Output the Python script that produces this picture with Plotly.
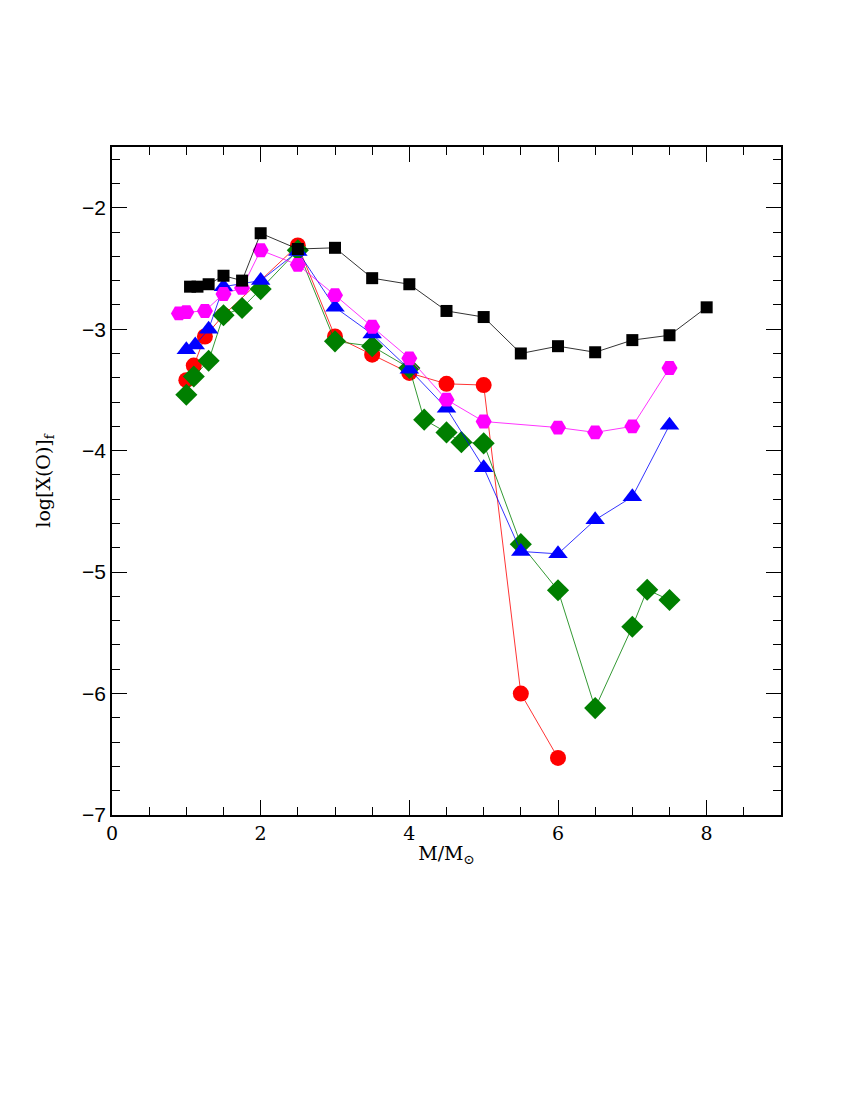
import plotly.graph_objects as go

# final oxygen abundance vs initial mass, five model sets
black_m = [1.05, 1.15, 1.3, 1.5, 1.75, 2.0, 2.5, 3.0, 3.5, 4.0, 4.5, 5.0, 5.5, 6.0, 6.5, 7.0, 7.5, 8.0]
black_x = [-2.65, -2.65, -2.63, -2.56, -2.60, -2.21, -2.34, -2.33, -2.58, -2.63, -2.85, -2.90, -3.20, -3.14, -3.19, -3.09, -3.05, -2.82]

magenta_m = [0.9, 1.0, 1.25, 1.5, 1.75, 2.0, 2.5, 3.0, 3.5, 4.0, 4.5, 5.0, 6.0, 6.5, 7.0, 7.5]
magenta_x = [-2.87, -2.86, -2.85, -2.71, -2.66, -2.35, -2.47, -2.72, -2.98, -3.24, -3.58, -3.76, -3.81, -3.85, -3.80, -3.32]

blue_m = [1.0, 1.12, 1.3, 1.5, 2.0, 2.5, 3.0, 3.5, 4.0, 4.5, 5.0, 5.5, 6.0, 6.5, 7.0, 7.5]
blue_x = [-3.17, -3.13, -3.00, -2.65, -2.60, -2.36, -2.82, -3.04, -3.33, -3.65, -4.14, -4.83, -4.85, -4.57, -4.38, -3.79]

red_m = [1.0, 1.1, 1.25, 1.5, 2.5, 3.0, 3.5, 4.0, 4.5, 5.0, 5.5, 6.0]
red_x = [-3.42, -3.30, -3.06, -2.885, -2.31, -3.06, -3.21, -3.36, -3.45, -3.46, -6.00, -6.53]

green_m = [1.0, 1.1, 1.3, 1.5, 1.75, 2.0, 2.5, 3.0, 3.5, 4.0, 4.2, 4.5, 4.7, 5.0, 5.5, 6.0, 6.5, 7.0, 7.2, 7.5]
green_x = [-3.54, -3.39, -3.26, -2.885, -2.825, -2.67, -2.35, -3.10, -3.14, -3.32, -3.745, -3.85, -3.93, -3.94, -4.77, -5.15, -6.12, -5.45, -5.145, -5.23]

series = [
    ("red", red_m, red_x, "#ff0000", "circle", 16),
    ("green", green_m, green_x, "#007f00", "diamond", 17),
    ("blue", blue_m, blue_x, "#0000ff", "triangle-up", 17),
    ("magenta", magenta_m, magenta_x, "#ff00ff", "hexagon2", 16),
    ("black", black_m, black_x, "#000000", "square", 12),
]

fig = go.Figure()
for name, m, x, col, sym, size in series:
    fig.add_trace(go.Scatter(
        x=m, y=x, name=name, mode="lines+markers",
        line=dict(color=col, width=0.8),
        marker=dict(color=col, symbol=sym, size=size, line=dict(width=0)),
    ))

axis_common = dict(
    showgrid=False, zeroline=False, showline=True, linecolor="black", linewidth=1.5,
    mirror="ticks", ticks="inside", ticklen=15, tickwidth=1.2, tickcolor="black",
)

fig.update_xaxes(
    range=[0, 9], dtick=2, tick0=0,
    minor=dict(dtick=0.5, ticks="inside", ticklen=8, tickcolor="black", tickwidth=1),
    tickfont=dict(family="DejaVu Serif", size=19, color="black"),
    title=dict(text="M/M<sub>⊙</sub>", font=dict(family="DejaVu Serif", size=19, color="black"), standoff=4),
    **axis_common,
)
fig.update_yaxes(
    range=[-7, -1.5], dtick=1, tick0=-7,
    minor=dict(dtick=0.2, ticks="inside", ticklen=8, tickcolor="black", tickwidth=1),
    tickfont=dict(family="Liberation Sans", size=21, color="black"),
    title=dict(text="log[X(O)]<sub>f</sub>", font=dict(family="DejaVu Serif", size=19, color="black"), standoff=26),
    **axis_common,
)

fig.update_layout(
    width=850, height=1100,
    margin=dict(l=104, r=77, t=139, b=293),
    paper_bgcolor="white", plot_bgcolor="white",
    showlegend=False,
)

fig.write_html("out.html")
